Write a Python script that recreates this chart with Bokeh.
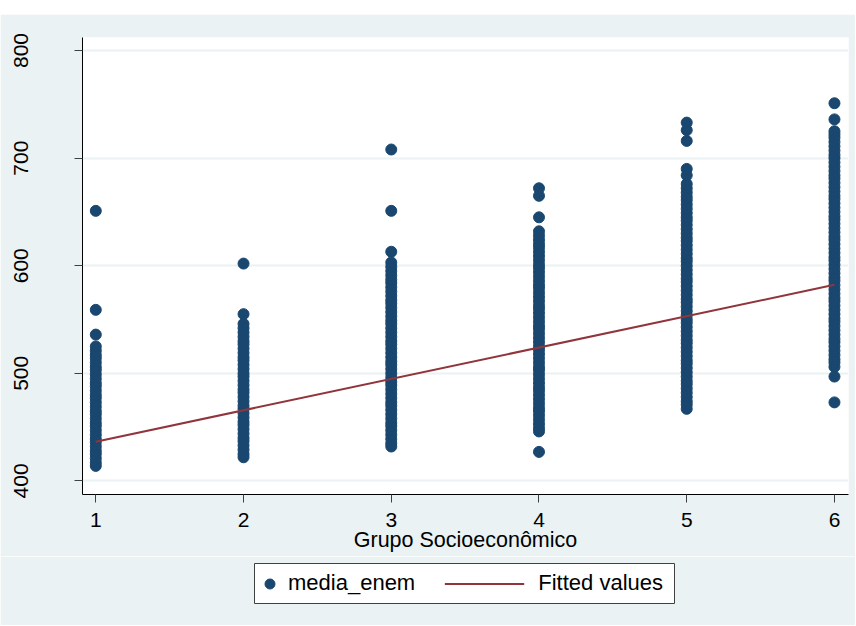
from bokeh.plotting import figure
from bokeh.models import Range1d, FixedTicker, Legend, LegendItem, Spacer
from bokeh.layouts import column
from bokeh.embed import file_html
from bokeh.resources import INLINE

# ---- data ----
groups = [1, 2, 3, 4, 5, 6]
media_g1 = [414, 417, 421, 425, 428, 432, 436, 439, 443, 447, 451, 454, 458, 462, 465, 469,
            473, 477, 480, 484, 488, 491, 495, 499, 503, 506, 510, 514, 517, 521, 525, 536,
            559, 651]
media_g2 = [422, 425, 429, 433, 437, 440, 444, 448, 452, 455, 459, 463, 467, 470, 474, 478,
            482, 485, 489, 493, 497, 500, 504, 508, 512, 515, 519, 523, 527, 530, 534, 538,
            542, 546, 555, 602]
media_g3 = [432, 435, 439, 443, 447, 451, 454, 458, 462, 466, 470, 473, 477, 481, 485, 489,
            492, 496, 500, 504, 508, 511, 515, 519, 523, 527, 530, 534, 538, 542, 546, 549,
            553, 557, 561, 565, 568, 572, 576, 580, 584, 587, 591, 595, 599, 603, 613, 651, 708]
media_g4 = [427, 446, 449, 453, 457, 461, 465, 468, 472, 476, 480, 484, 487, 491, 495, 499,
            503, 506, 510, 514, 518, 522, 525, 529, 533, 537, 541, 544, 548, 552, 556, 560,
            563, 567, 571, 575, 579, 582, 586, 590, 594, 598, 601, 605, 609, 613, 617, 620,
            624, 628, 632, 645, 665, 672]
media_g5 = [467, 471, 474, 478, 482, 486, 490, 493, 497, 501, 505, 509, 512, 516, 520, 524,
            528, 531, 535, 539, 543, 547, 550, 554, 558, 562, 566, 569, 573, 577, 581, 585,
            588, 592, 596, 600, 604, 607, 611, 615, 619, 623, 626, 630, 634, 638, 642, 645,
            649, 653, 657, 661, 664, 668, 672, 676, 684, 690, 716, 726, 733]
media_g6 = [473, 497, 506, 510, 513, 517, 521, 525, 529, 532, 536, 540, 544, 548, 551, 555,
            559, 563, 567, 570, 574, 578, 582, 586, 589, 593, 597, 601, 605, 608, 612, 616,
            620, 624, 627, 631, 635, 639, 643, 646, 650, 654, 658, 662, 665, 669, 673, 677,
            681, 684, 688, 692, 696, 700, 703, 707, 711, 715, 719, 722, 725, 736, 751]
fit_x = [1, 6]
fit_y = [436.5, 582.3]
x_ticks = [1, 2, 3, 4, 5, 6]
y_ticks = [400, 500, 600, 700, 800]

NAVY = "#1A476F"
MAROON = "#90353B"
BG = "#EAF2F3"
FONT = "Liberation Sans"
W = 855

xs, ys = [], []
for g, vals in zip(groups, [media_g1, media_g2, media_g3, media_g4, media_g5, media_g6]):
    xs += [g] * len(vals)
    ys += vals

p = figure(width=W, height=542, x_range=Range1d(0.91, 6.095), y_range=Range1d(387.4, 812.1),
           output_backend="svg", toolbar_location=None,
           min_border_left=82, min_border_right=W - 848, min_border_top=23, min_border_bottom=62)
p.frame_align = False
p.border_fill_color = BG
p.background_fill_color = "white"
p.outline_line_color = None

p.scatter(xs, ys, size=11, fill_color=NAVY, line_color=NAVY)
p.line(fit_x, fit_y, line_color=MAROON, line_width=2)

p.xaxis.ticker = FixedTicker(ticks=x_ticks)
p.yaxis.ticker = FixedTicker(ticks=y_ticks)
p.xgrid.visible = False
p.ygrid.grid_line_color = BG
p.ygrid.grid_line_width = 2

for ax in (p.xaxis, p.yaxis):
    ax.axis_line_color = "black"
    ax.axis_line_width = 1
    ax.major_tick_line_color = "#404040"
    ax.major_tick_in = 0
    ax.major_tick_out = 8
    ax.minor_tick_line_color = None
    ax.major_label_text_font = FONT
    ax.major_label_text_font_size = "21px"
    ax.major_label_text_color = "black"

p.yaxis.major_label_orientation = "vertical"
p.yaxis.major_label_standoff = 46
p.xaxis.major_label_standoff = 10
p.xaxis.axis_label = "Grupo Socioeconômico"
p.xaxis.axis_label_text_font = FONT
p.xaxis.axis_label_text_font_size = "21.5px"
p.xaxis.axis_label_text_font_style = "normal"
p.xaxis.axis_label_text_color = "black"
p.xaxis.axis_label_standoff = -2

# ---- legend strip ----
leg = figure(width=W, height=69, x_range=Range1d(0, 1), y_range=Range1d(0, 1),
             output_backend="svg", toolbar_location=None,
             x_axis_type=None, y_axis_type=None,
             min_border_left=254, min_border_right=W - 674, min_border_top=7, min_border_bottom=22)
leg.frame_align = False
leg.border_fill_color = BG
leg.background_fill_color = "white"
leg.outline_line_color = "#404040"
leg.outline_line_width = 1

# legend proxies (hidden; only their styling is used by the legend)
r1 = leg.scatter(xs, ys, size=11, fill_color=NAVY, line_color=NAVY, visible=False)
r2 = leg.line(fit_x, fit_y, line_color=MAROON, line_width=2, visible=False)

common = dict(padding=0, glyph_height=25, border_line_alpha=0, background_fill_alpha=0,
              inactive_fill_alpha=0, label_text_font=FONT, label_text_font_size="22px",
              label_text_color="black")
legA = Legend(items=[LegendItem(label="media_enem", renderers=[r1])], location="left",
              margin=3, glyph_width=25, label_standoff=6, **common)
legB = Legend(items=[LegendItem(label="Fitted values", renderers=[r2])], location="right",
              margin=11, glyph_width=80, label_standoff=14, **common)
leg.add_layout(legA)
leg.add_layout(legB)

layout = column(Spacer(width=W, height=14), p, leg)

open("out.html", "w").write(file_html(layout, INLINE))
